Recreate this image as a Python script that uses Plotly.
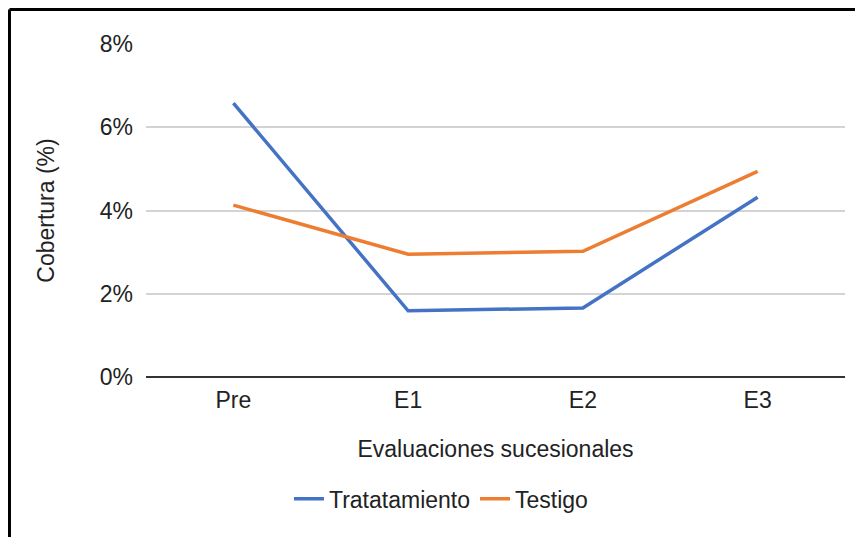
import plotly.graph_objects as go

categorias = ["Pre", "E1", "E2", "E3"]
tratamiento = [0.0658, 0.0159, 0.0166, 0.0432]
testigo = [0.0413, 0.0295, 0.0302, 0.0494]
ticks_y = [0, 0.02, 0.04, 0.06, 0.08]

fuente = "Liberation Sans, Arial"
color_texto = "#222222"
tam = 23

fig = go.Figure()
fig.add_trace(go.Scatter(x=categorias, y=tratamiento, mode="lines", name="Tratatamiento",
                         line=dict(color="#4472C4", width=3.5)))
fig.add_trace(go.Scatter(x=categorias, y=testigo, mode="lines", name="Testigo",
                         line=dict(color="#ED7D31", width=3.5)))

fig.update_layout(
    width=863, height=537,
    margin=dict(l=138, r=26, t=36, b=168),
    plot_bgcolor="white", paper_bgcolor="white",
    font=dict(family=fuente, size=tam, color=color_texto),
    showlegend=True,
    legend=dict(orientation="h", x=0.422, xanchor="center", y=-0.366, yanchor="middle",
                font=dict(family=fuente, size=tam, color=color_texto), itemwidth=30),
    xaxis=dict(range=[-0.5, 3.5], showgrid=False, ticks="", showline=False,
               tickfont=dict(size=tam), ticklabelstandoff=7,
               title=dict(text="Evaluaciones sucesionales", font=dict(size=tam), standoff=28)),
    yaxis=dict(range=[0, 0.08], tickvals=ticks_y, tickformat=".0%",
               gridcolor="#D3D3D3", gridwidth=1.5, zeroline=True, zerolinecolor="#333333",
               zerolinewidth=1.5, ticks="", ticklabelstandoff=12, tickfont=dict(size=tam),
               title=dict(text="Cobertura (%)", font=dict(size=tam), standoff=38)),
)

# marco negro (arriba e izquierda)
fig.add_shape(type="line", xref="paper", yref="paper", x0=-0.1953, x1=1.05, y0=1.1036, y1=1.1036,
              line=dict(color="black", width=3))
fig.add_shape(type="line", xref="paper", yref="paper", x0=-0.1953, x1=-0.1953, y0=1.1036, y1=-0.6,
              line=dict(color="black", width=3))

fig.write_html("out.html")
